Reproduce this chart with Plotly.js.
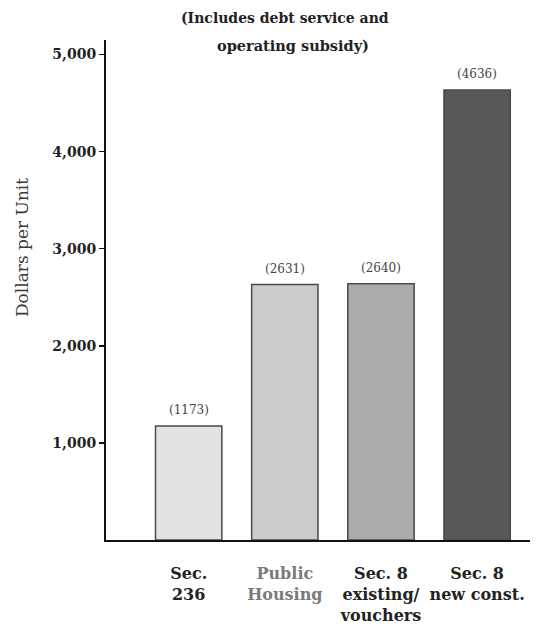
<!DOCTYPE html>
<html>
<head>
<meta charset="utf-8">
<script src="https://cdn.plot.ly/plotly-3.0.1.min.js"></script>
<style>html,body{margin:0;padding:0;background:#fff;}#chart{width:536px;height:634px;}</style>
</head>
<body>
<div id="chart"></div>
<script>
var categories = ["Sec. 236", "Public Housing", "Sec. 8 existing/vouchers", "Sec. 8 new const."];
var tickLabels = ["Sec.<br>236", "<span style=\"color:#7a7a7a\">Public</span><br><span style=\"color:#7a7a7a\">Housing</span>", "Sec. 8<br>existing/<br>vouchers", "Sec. 8<br>new const."];
var costPerUnit = [1173, 2631, 2640, 4636];
var valueLabels = ["(1173)", "(2631)", "(2640)", "(4636)"];
var barColors = ["#e2e2e2", "#cbcbcb", "#acacac", "#585858"];
var yTickVals = [1000, 2000, 3000, 4000, 5000];
var titleLines = ["(Includes debt service and", "operating subsidy)"];
var yTitle = "Dollars per Unit";

var serif = "DejaVu Serif, Liberation Serif, serif";

var trace = {
  type: "bar",
  x: categories,
  y: costPerUnit,
  marker: {color: barColors, line: {color: "#4a4a4a", width: 1.5}},
  hoverinfo: "none"
};

var annotations = categories.map(function (c, i) {
  return {
    x: c, y: costPerUnit[i], xref: "x", yref: "y",
    text: valueLabels[i], showarrow: false,
    yanchor: "bottom", yshift: 7,
    font: {family: serif, size: 12, color: "#444"}
  };
});
// title lines
annotations.push({
  x: 0.422, y: 1.044, xref: "paper", yref: "paper",
  text: titleLines[0], showarrow: false, xanchor: "center", yanchor: "middle",
  font: {family: serif, size: 14, color: "#222", weight: "bold"}
});
annotations.push({
  x: 0.44, y: 0.99, xref: "paper", yref: "paper",
  text: titleLines[1], showarrow: false, xanchor: "center", yanchor: "middle",
  font: {family: serif, size: 14.5, color: "#222", weight: "bold"}
});
// y-axis title (placed off-centre as in the reference)
annotations.push({
  x: -0.198, y: 0.584, xref: "paper", yref: "paper",
  text: yTitle, showarrow: false, textangle: -90,
  xanchor: "center", yanchor: "middle",
  font: {family: serif, size: 17, color: "#3a3a3a"}
});

var layout = {
  width: 536, height: 634,
  margin: {l: 106, r: 6, t: 40, b: 94},
  paper_bgcolor: "#fff", plot_bgcolor: "#fff",
  showlegend: false,
  bargap: 0.31,
  xaxis: {
    type: "category",
    range: [-0.86, 3.55],
    tickvals: categories,
    ticktext: tickLabels,
    ticks: "",
    showline: true, linecolor: "#111", linewidth: 2,
    showgrid: false, zeroline: false,
    tickangle: 0,
    ticklabelstandoff: 18,
    tickfont: {family: serif, size: 16, color: "#222", weight: "bold"}
  },
  yaxis: {
    range: [0, 5150],
    tickvals: yTickVals,
    tickformat: ",d",
    ticks: "outside", ticklen: 5, tickcolor: "#111", tickwidth: 1.5,
    showline: true, linecolor: "#111", linewidth: 2,
    showgrid: false, zeroline: false,
    tickfont: {family: serif, size: 14, color: "#222", weight: "bold"}
  },
  annotations: annotations
};

Plotly.newPlot("chart", [trace], layout, {displayModeBar: false, staticPlot: true});
</script>
</body>
</html>
